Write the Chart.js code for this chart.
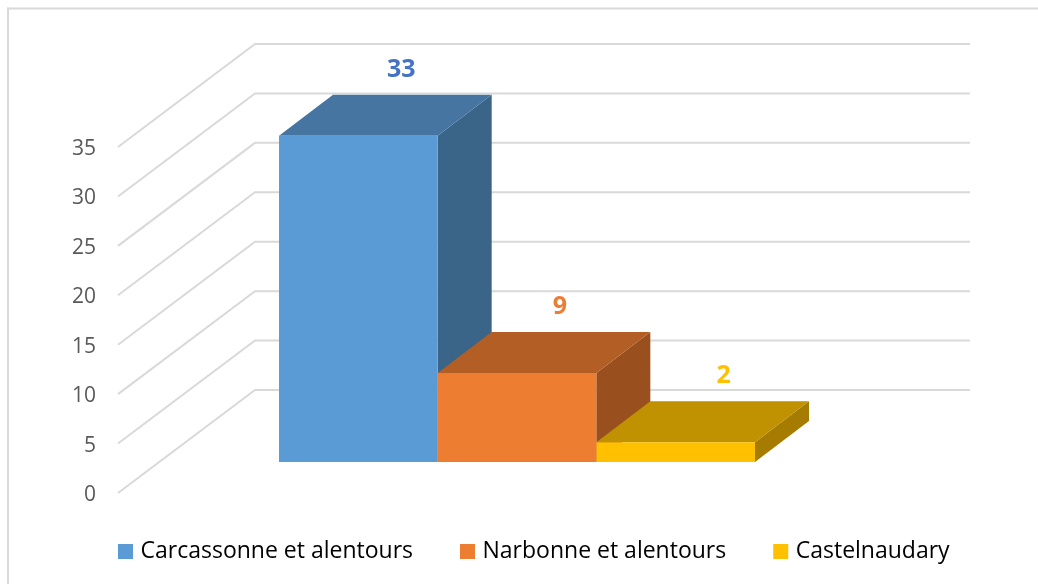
<!DOCTYPE html>
<html><head><meta charset="utf-8">
<script src="https://cdn.jsdelivr.net/npm/chart.js@4"></script>
<style>html,body{margin:0;padding:0;background:#fff;overflow:hidden}#w{position:relative;width:1038px;height:584px}</style>
</head><body><div id="w"><canvas id="c" width="1038" height="584"></canvas></div>
<script>
const categories = ["Répartition"];
const seriesNames = ["Carcassonne et alentours", "Narbonne et alentours", "Castelnaudary"];
const carcassonne = [33];
const narbonne = [9];
const castelnaudary = [2];
const frontColors = ["#5B9BD5", "#ED7D31", "#FFC000"];
const topColors = ["#4675A2", "#B35E25", "#C09100"];
const sideColors = ["#3A6488", "#9A4F1E", "#A67C00"];
const labelColors = ["#4472C4", "#ED7D31", "#FFC000"];
const labelShift = [16, 16, 21];

const WALL = {dx: 137, dy: -103, right: 970};
const FLOOR = {dx: 41.5, dy: -31};
const BAR = {dx: 54, dy: -41};
const FONT = '"Open Sans"';
const LEGEND_LEFT = 118, PAD = 51;

function poly(ctx, pts, color) {
  ctx.beginPath();
  pts.forEach((p, i) => i ? ctx.lineTo(p[0], p[1]) : ctx.moveTo(p[0], p[1]));
  ctx.closePath();
  ctx.fillStyle = color;
  ctx.fill();
}
const scene = {
  id: 'scene',
  beforeLayout(chart) {
    const lg = chart.legend;
    if (lg && !lg._patched) {
      const fit = lg.fit;
      lg.fit = function () { this.maxWidth = 3000; fit.call(this); this.height = 91; };
      lg._patched = true;
    }
  },
  afterLayout(chart) {
    const lg = chart.legend;
    lg.left = LEGEND_LEFT + 4 - PAD;
    lg.right = 3000;
    lg.top = chart.chartArea.bottom - 4;
  },
  beforeDraw(chart) {
    const c = chart.ctx;
    c.save();
    c.fillStyle = '#fff';
    c.fillRect(0, 0, chart.width, chart.height);
    c.fillStyle = '#D9D9D9';
    c.fillRect(7, 7.5, chart.width, 2);
    c.fillRect(7, 7.5, 2, chart.height);
    c.restore();
  },
  beforeDatasetsDraw(chart) {
    const c = chart.ctx, y = chart.scales.y, left = chart.chartArea.left;
    c.save();
    c.strokeStyle = '#D9D9D9';
    c.lineWidth = 2;
    y.ticks.forEach(t => {
      const p = y.getPixelForValue(t.value);
      c.beginPath();
      c.moveTo(left, p);
      c.lineTo(left + WALL.dx, p + WALL.dy);
      c.lineTo(WALL.right, p + WALL.dy);
      c.stroke();
    });
    c.translate(FLOOR.dx, FLOOR.dy);
    chart.data.datasets.forEach((d, i) => {
      const b = chart.getDatasetMeta(i).data[0];
      const l = b.x - b.width / 2, r = b.x + b.width / 2, t = b.y, base = b.base;
      poly(c, [[r, t], [r + BAR.dx, t + BAR.dy], [r + BAR.dx, base + BAR.dy], [r, base]], sideColors[i]);
      poly(c, [[l, t], [l + BAR.dx, t + BAR.dy], [r + BAR.dx, t + BAR.dy], [r, t]], topColors[i]);
    });
    c.restore();
    c.save();
    c.translate(FLOOR.dx, FLOOR.dy);
  },
  afterDatasetsDraw(chart) {
    const c = chart.ctx;
    c.restore();
    c.save();
    c.font = 'bold 25px ' + FONT;
    c.textAlign = 'center';
    c.textBaseline = 'middle';
    chart.data.datasets.forEach((d, i) => {
      const b = chart.getDatasetMeta(i).data[0];
      c.fillStyle = labelColors[i];
      c.fillText(String(d.data[0]), b.x + FLOOR.dx + BAR.dx / 2 + labelShift[i], b.y + FLOOR.dy + BAR.dy - 25);
    });
    c.restore();
  }
};
const series = [carcassonne, narbonne, castelnaudary];
new Chart(document.getElementById('c'), {
  type: 'bar',
  data: {
    labels: categories,
    datasets: seriesNames.map((n, i) => ({
      label: n, data: series[i], backgroundColor: frontColors[i], borderWidth: 0, clip: false,
      barPercentage: 1, categoryPercentage: 0.6657
    }))
  },
  options: {
    responsive: false,
    animation: false,
    layout: {padding: {left: 0, right: 205, top: 147, bottom: 0}},
    plugins: {
      tooltip: {enabled: false},
      legend: {
        position: 'bottom', align: 'start',
        labels: {
          font: {family: FONT, size: 23}, color: '#111', padding: PAD, boxWidth: 7, boxHeight: 7,
          generateLabels(chart) {
            return chart.data.datasets.map((d, i) => ({
              text: d.label, fillStyle: frontColors[i], strokeStyle: frontColors[i],
              lineWidth: 8, datasetIndex: i, hidden: false
            }));
          }
        }
      }
    },
    scales: {
      x: {display: false},
      y: {
        min: 0, max: 35,
        afterFit(s) { s.width = 118; },
        grid: {display: false, drawTicks: false},
        border: {display: false},
        ticks: {stepSize: 5, padding: 22, labelOffset: 2, color: '#595959', font: {family: FONT, size: 21}}
      }
    }
  },
  plugins: [scene]
});
</script></body></html>
